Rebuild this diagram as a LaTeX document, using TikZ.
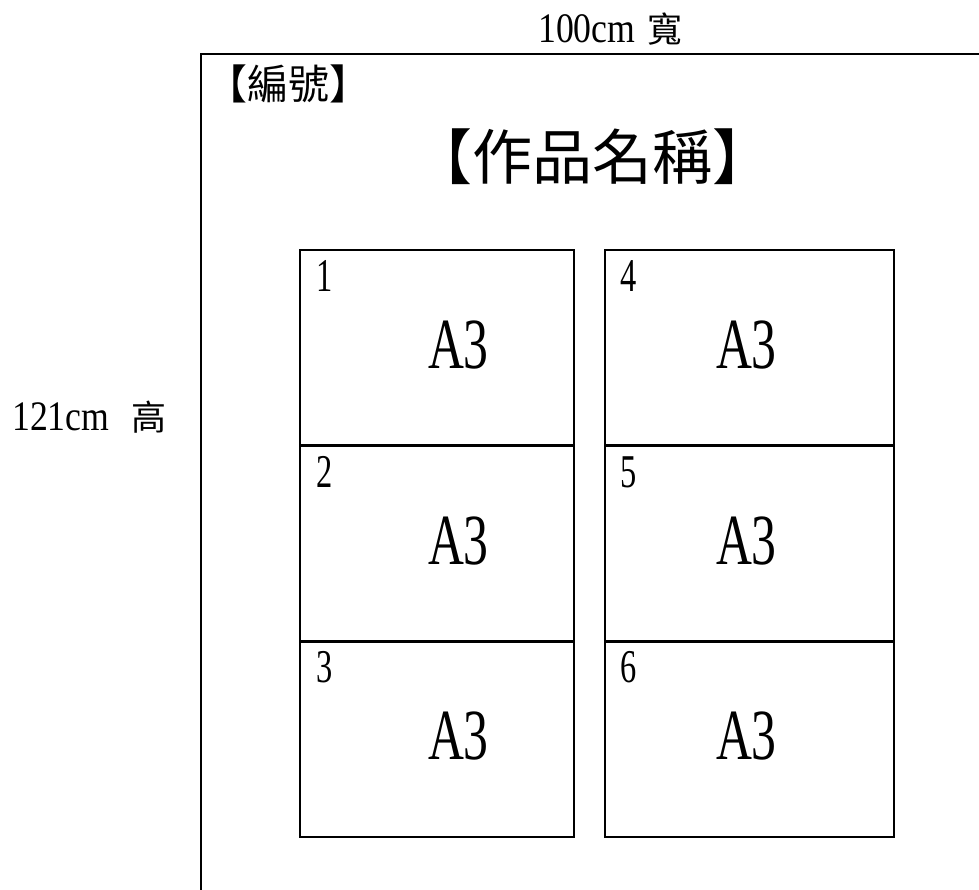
\documentclass[tikz,border=0pt]{standalone}
\usepackage{fontspec}
\setmainfont{Liberation Serif}
\newfontfamily\narrowA[FakeStretch=0.85]{Liberation Serif}
\newfontfamily\narrowB[FakeStretch=0.69]{Liberation Serif}
\newfontfamily\cjk{Noto Sans CJK TC}
\tikzset{
  cell/.style={draw, line width=2.2pt, inner sep=0pt, minimum height=196pt},
  leftcell/.style={cell, minimum width=274pt},
  rightcell/.style={cell, minimum width=289pt},
  numlbl/.style={anchor=base west, inner sep=0pt, font=\narrowB\fontsize{47}{47}\selectfont},
  a3lbl/.style={anchor=base west, inner sep=0pt, font=\narrowB\fontsize{72}{72}\selectfont},
  dimlbl/.style={anchor=base west, inner sep=0pt, font=\narrowA\fontsize{42}{42}\selectfont},
  cjklbl/.style={inner sep=0pt}
}
\begin{document}
\begin{tikzpicture}[x=1pt,y=-1pt]
\useasboundingbox (0,0) rectangle (979,889);
\clip (0,0) rectangle (979,889);
% outer sheet (extends beyond the picture)
\node[draw, line width=2.3pt, inner sep=0pt, minimum width=820pt, minimum height=880pt, anchor=north west] (frame) at (200,53) {};
% dimension labels
\node[dimlbl] (width) at (538,42) {100cm\hspace{12pt}{\cjk\fontsize{35}{35}\selectfont 寬}};
\node[dimlbl] (height) at (12,430) {121cm\hspace{22pt}{\cjk\fontsize{35}{35}\selectfont 高}};
% titles
\node[cjklbl, font=\cjk\fontsize{41}{41}\selectfont] (code) at (288,84) {【編號】};
\node[cjklbl, font=\cjk\fontsize{60}{60}\selectfont] (title) at (592,157) {【作品名稱】};
% cells
\node[leftcell]  (b1) at (437,348) {};
\node[leftcell]  (b2) at (437,543.5) {};
\node[leftcell]  (b3) at (437,739) {};
\node[rightcell] (b4) at (749.5,348) {};
\node[rightcell] (b5) at (749.5,543.5) {};
\node[rightcell] (b6) at (749.5,739) {};
% numbers
\node[numlbl] (n1) at ([shift={(17,43)}]b1.north west) {1};
\node[numlbl] (n2) at ([shift={(17,43)}]b2.north west) {2};
\node[numlbl] (n3) at ([shift={(17,43)}]b3.north west) {3};
\node[numlbl] (n4) at ([shift={(16,43)}]b4.north west) {4};
\node[numlbl] (n5) at ([shift={(16,43)}]b5.north west) {5};
\node[numlbl] (n6) at ([shift={(16,43)}]b6.north west) {6};
% A3 labels
\node[a3lbl] (t1) at ([shift={(129,120)}]b1.north west) {A3};
\node[a3lbl] (t2) at ([shift={(129,120)}]b2.north west) {A3};
\node[a3lbl] (t3) at ([shift={(129,120)}]b3.north west) {A3};
\node[a3lbl] (t4) at ([shift={(112,120)}]b4.north west) {A3};
\node[a3lbl] (t5) at ([shift={(112,120)}]b5.north west) {A3};
\node[a3lbl] (t6) at ([shift={(112,120)}]b6.north west) {A3};
\end{tikzpicture}
\end{document}
